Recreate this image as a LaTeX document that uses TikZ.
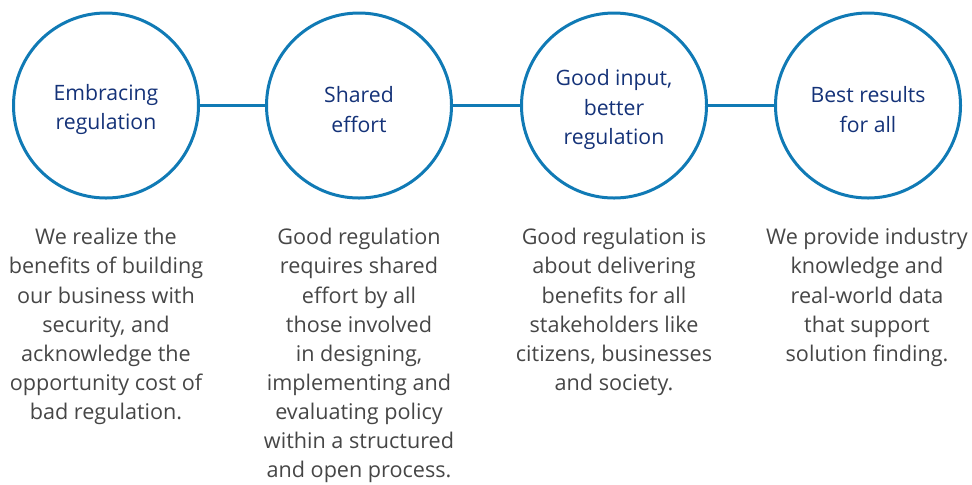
\documentclass[tikz,border=0pt]{standalone}
\usepackage{fontspec}
\setmainfont{Open Sans}
\usetikzlibrary{positioning}
\definecolor{cRing}{RGB}{16,122,181}
\definecolor{cTitle}{RGB}{20,50,120}
\definecolor{cBody}{RGB}{70,70,70}
\tikzset{
	ring/.style ={circle, draw=cRing, line width=1.5pt, minimum size=92.5pt, inner sep=0pt},
	title/.style={align=center, inner sep=0pt, text=cTitle, font=\fontsize{10.6}{14.6}\selectfont},
	link/.style ={draw=cRing, line width=1.2pt},
	blurb/.style={anchor=north, inner sep=0pt, align=center, text=cBody, font=\fontsize{10.8}{14.55}\selectfont},
}
\begin{document}
\begin{tikzpicture}[x=0.5pt, y=-0.5pt]
	\useasboundingbox (0,0) rectangle (972,484);
	\node[ring] (embrace) at (106,105.5) {};
	\node[ring] (shared)  at (359,105.5) {};
	\node[ring] (input)   at (614,105.5) {};
	\node[ring] (best)    at (868,105.5) {};
	\draw[link] (embrace) -- (shared);
	\draw[link] (shared) -- (input);
	\draw[link] (input) -- (best);
	% titles inside the circles
	\node[title] (embraceT) at ([yshift=-2pt]embrace.center) {Embracing\\ regulation};
	\node[title] (sharedT)  at ([yshift=-2pt]shared.center)  {Shared\\ effort};
	\node[title] (inputT)   at ([yshift=-2pt]input.center)   {Good input,\\ better\\ regulation};
	\node[title] (bestT)    at ([yshift=-2pt]best.center)    {Best results\\ for all};
	% texts under the circles
	\node[blurb] (tEmbrace) at (106,228) {We realize the\\ benefits of building\\ our business with\\ security, and\\ acknowledge the\\ opportunity cost of\\ bad regulation.};
	\node[blurb] (tShared)  at (359,228) {Good regulation\\ requires shared\\ effort by all\\ those involved\\ in designing,\\ implementing and\\ evaluating policy\\ within a structured\\ and open process.};
	\node[blurb] (tInput)   at (614,228) {Good regulation is\\ about delivering\\ benefits for all\\ stakeholders like\\ citizens, businesses\\ and society.};
	\node[blurb] (tBest)    at (867,228) {We provide industry\\ knowledge and\\ real-world data\\ that support\\ solution finding.};
\end{tikzpicture}
\end{document}
